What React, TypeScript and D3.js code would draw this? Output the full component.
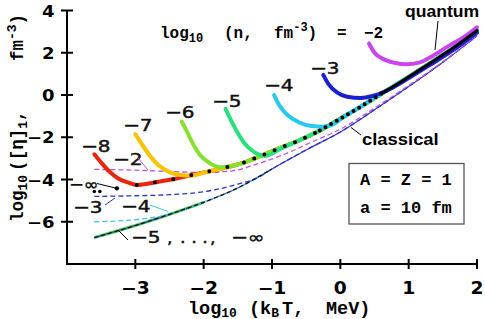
import React from 'react';
import * as d3 from 'd3';

type P = [number, number];

const xTicks = [-3, -2, -1, 0, 1, 2];
const yTicks = [-6, -4, -2, 0, 2, 4];

// quantum non-degenerate limit (black dotted)
const envelope: P[] = [
  [-2.98, -4.26], [-2.7, -4.13], [-2.43, -3.98], [-2.19, -3.8], [-1.97, -3.65],
  [-1.76, -3.5], [-1.58, -3.35], [-1.41, -3.2], [-1.13, -2.84], [-0.88, -2.5],
  [-0.64, -2.2], [-0.3, -1.68], [0.0, -1.12], [0.3, -0.55], [0.6, 0.06],
  [0.9, 0.65], [1.3, 1.48], [1.65, 2.22], [2.0, 3.05],
];
const lowTDots: P[] = [[-3.27, -4.42], [-3.6, -4.57], [-3.52, -4.57]];

// quantum curves for log10 n = -8 .. -2
const qM8: P[] = [[-3.6, -2.81], [-3.5, -3.2], [-3.38, -3.62], [-3.25, -3.95], [-3.1, -4.15], [-2.98, -4.26]];
const qM7: P[] = [[-3.0, -1.85], [-2.88, -2.45], [-2.76, -2.98], [-2.65, -3.35], [-2.5, -3.65], [-2.3, -3.8], [-2.19, -3.82]];
const qM6: P[] = [[-2.32, -1.26], [-2.25, -1.7], [-2.15, -2.35], [-2.05, -2.85], [-1.92, -3.2], [-1.76, -3.42], [-1.58, -3.36]];
const qM5: P[] = [[-1.68, -0.65], [-1.6, -1.2], [-1.5, -1.8], [-1.4, -2.3], [-1.27, -2.68], [-1.1, -2.88], [-0.88, -2.55]];
const qM4: P[] = [[-0.97, 0.0], [-0.88, -0.55], [-0.76, -0.98], [-0.6, -1.3], [-0.42, -1.47], [-0.25, -1.5], [-0.1, -1.38], [0.0, -1.15]];
const qM3: P[] = [[-0.25, 0.95], [-0.17, 0.5], [-0.05, 0.12], [0.1, -0.08], [0.3, -0.14], [0.5, -0.02], [0.75, 0.32], [1.0, 0.8], [1.3, 1.4], [1.65, 2.12], [2.0, 2.95]];
const qM2: P[] = [[0.42, 2.44], [0.5, 2.0], [0.62, 1.72], [0.8, 1.52], [0.97, 1.45], [1.15, 1.53], [1.35, 1.85], [1.6, 2.35], [1.8, 2.72], [2.0, 3.2]];

// classical curves
const classical: P[] = [[-3.6, -6.75], [-3.0, -6.18], [-2.5, -5.65], [-2.0, -5.08], [-1.5, -4.4], [-1.0, -3.5], [-0.5, -2.6], [0, -1.75], [0.5, -0.7], [1.0, 0.4], [1.5, 1.55], [2.0, 2.8]];
const cM2: P[] = [[-3.6, -3.52], [-3.0, -3.56], [-2.5, -3.62], [-2.0, -3.67], [-1.6, -3.6], [-1.2, -3.25], [-0.8, -2.78], [-0.4, -2.2], [0.0, -1.62], [0.5, -0.62], [1.0, 0.45], [1.5, 1.57], [2.0, 2.82]];
const cM3: P[] = [[-3.6, -4.8], [-3.0, -4.77], [-2.5, -4.72], [-2.0, -4.58], [-1.5, -4.22], [-1.2, -3.9], [-1.0, -3.5], [-0.5, -2.6], [0, -1.75], [0.5, -0.7], [1.0, 0.4], [1.5, 1.55], [2.0, 2.8]];
const cM4: P[] = [[-3.6, -6.0], [-3.0, -5.9], [-2.6, -5.72], [-2.3, -5.45], [-2.0, -5.08], [-1.5, -4.4], [-1.0, -3.5]];
const cM5: P[] = [[-3.6, -6.75], [-3.0, -6.18], [-2.5, -5.65], [-2.0, -5.08]];
const cMinf: P[] = [[-3.6, -6.75], [-3.0, -6.18], [-2.5, -5.65], [-2.0, -5.08], [-1.5, -4.4], [-1.0, -3.5]];

const SANS = 'DejaVu Sans, sans-serif';
const ARIAL = 'Liberation Sans, Arial, sans-serif';
const MONO = 'Liberation Mono, Courier New, monospace';

const xs = d3.scaleLinear().domain([-4, 2]).range([67, 477]);
const ys = d3.scaleLinear().domain([-8, 4]).range([264, 10.5]);
const line = d3.line<P>().x(d => xs(d[0])).y(d => ys(d[1])).curve(d3.curveMonotoneX);

const tail = (head: P[]) => envelope.filter(p => p[0] > head[head.length - 1][0] + 0.05);

const quantum = [
  { data: [...qM8, ...tail(qM8)], color: '#e8260e' },
  { data: [...qM7, ...tail(qM7)], color: '#f7c400' },
  { data: [...qM6, ...tail(qM6)], color: '#86e030' },
  { data: [...qM5, ...tail(qM5)], color: '#28e07c' },
  { data: [...qM4, ...tail(qM4)], color: '#28c8f0' },
  { data: qM3, color: '#1a22d0' },
  { data: qM2, color: '#cc44ee' },
];

function Lbl(props: { x: number; y: number; fs?: number; sx?: number; anchor?: string; weight?: string; family?: string; fill?: string; thick?: number; children: React.ReactNode }) {
  const { x, y, fs = 16, sx = 1.25, anchor = 'start', weight = 'normal', family = SANS, fill = '#111', thick = 0 } = props;
  return (
    <text transform={`translate(${x},${y}) scale(${sx},1)`} fontSize={fs} fontFamily={family} fontWeight={weight} textAnchor={anchor} fill={fill} stroke={thick ? fill : 'none'} strokeWidth={thick}>
      {props.children}
    </text>
  );
}

export default function App() {
  const segA = envelope.slice(0, 8);
  const segB = envelope.slice(7, 12);
  const segC = envelope.slice(11, 15);
  const segD = envelope.slice(14);
  const T = 0.45;
  return (
    <svg width={485} height={319} style={{ position: 'absolute', left: 0, top: 0, background: '#fff' }}>
      <rect width={485} height={319} fill="#fff" />
      {/* classical dashed curves */}
      <path d={line(cM5)!} fill="none" stroke="#44d044" strokeWidth={3} />
      <path d={line(classical)!} fill="none" stroke="#3a3ad0" strokeWidth={1.2} />
      <path d={line(cM4)!} fill="none" stroke="#3cc8e0" strokeWidth={1.3} strokeDasharray="5 3" />
      <path d={line(cM3)!} fill="none" stroke="#2a36c0" strokeWidth={1.3} strokeDasharray="5 3" />
      <path d={line(cM2)!} fill="none" stroke="#c050e0" strokeWidth={1.3} strokeDasharray="5 3" />
      <path d={line(cMinf)!} fill="none" stroke="#111" strokeWidth={1.2} strokeDasharray="4 3" />

      {/* quantum curves */}
      {quantum.map((q, i) => (
        <path key={i} d={line(q.data)!} fill="none" stroke={q.color} strokeWidth={4} strokeLinejoin="round" strokeLinecap="round" />
      ))}
      {/* envelope */}
      <path d={line(segA)!} fill="none" stroke="#000" strokeWidth={4} strokeLinecap="round" strokeDasharray="0 18.5" />
      <path d={line(segB)!} fill="none" stroke="#000" strokeWidth={4} strokeLinecap="round" strokeDasharray="0 11" />
      <path d={line(segC)!} fill="none" stroke="#000" strokeWidth={4} strokeLinecap="round" strokeDasharray="0 6.5" />
      <path d={line(segD)!} fill="none" stroke="#000" strokeWidth={3} strokeLinecap="round" />
      {lowTDots.map((p, i) => (
        <circle key={i} cx={xs(p[0])} cy={ys(p[1])} r={i === 0 ? 2.2 : 1.8} fill="#000" />
      ))}

      {/* axes */}
      <line x1={67} y1={10} x2={67} y2={265} stroke="#000" strokeWidth={2} />
      <line x1={66} y1={264} x2={477} y2={264} stroke="#000" strokeWidth={2} />
      {yTicks.map(t => (
        <g key={t}>
          <line x1={61} x2={73} y1={ys(t)} y2={ys(t)} stroke="#000" strokeWidth={2} />
          <Lbl x={54.5} y={ys(t) + 6} fs={15} sx={1.2} anchor="end" weight="bold" fill="#000">{t < 0 ? `−${-t}` : `${t}`}</Lbl>
        </g>
      ))}
      {xTicks.map(t => (
        <g key={t}>
          <line x1={xs(t)} x2={xs(t)} y1={259} y2={269} stroke="#000" strokeWidth={2} />
          <Lbl x={xs(t)} y={293.5} fs={17} sx={1.1} anchor="middle" weight="bold" fill="#000">{t < 0 ? `−${-t}` : `${t}`}</Lbl>
        </g>
      ))}

      {/* axis titles */}
      <text x={188} y={313.5} fontFamily={MONO} fontWeight="bold" fontSize={18.5} fill="#000">
        log<tspan fontSize={13} dy={3}>10</tspan>
      </text>
      <text x={249} y={313.5} fontFamily={MONO} fontWeight="bold" fontSize={18.5} fill="#000">
        (k<tspan fontSize={13} dy={3}>B</tspan><tspan dy={-3} dx={3}>T,</tspan>
      </text>
      <text x={326} y={313.5} fontFamily={MONO} fontWeight="bold" fontSize={18.5} fill="#000">MeV)</text>

      <text transform="translate(23,222) rotate(-90)" fontFamily={MONO} fontWeight="bold" fontSize={17.5} fill="#000">
        log<tspan fontSize={13} dy={4}>10</tspan><tspan dy={-4} dx={4}>([η]</tspan><tspan fontSize={13} dy={4}>1</tspan><tspan dy={-4}>,</tspan>
      </text>
      <text transform="translate(23,61) rotate(-90)" fontFamily={MONO} fontWeight="bold" fontSize={17.5} fill="#000">
        fm<tspan fontSize={13} dy={-7}>-3</tspan><tspan dy={7}>)</tspan>
      </text>

      {/* top title */}
      <text x={160} y={38} fontFamily={MONO} fontWeight="bold" fontSize={16} fill="#000">
        log<tspan fontSize={12} dy={4}>10</tspan>
      </text>
      <text x={224} y={38} fontFamily={MONO} fontWeight="bold" fontSize={16} fill="#000">(n,</text>
      <text x={274} y={38} fontFamily={MONO} fontWeight="bold" fontSize={16} fill="#000">
        fm<tspan fontSize={12} dy={-7}>-3</tspan><tspan dy={7}>)</tspan>
      </text>
      <text x={337} y={38} fontFamily={MONO} fontWeight="bold" fontSize={16} fill="#000">=</text>
      <text x={364} y={38} fontFamily={MONO} fontWeight="bold" fontSize={16} fill="#000">−2</text>

      {/* curve labels */}
      <Lbl x={81} y={152} thick={T}>−8</Lbl>
      <Lbl x={123} y={131} thick={T}>−7</Lbl>
      <Lbl x={165} y={118} thick={T}>−6</Lbl>
      <Lbl x={212} y={107} thick={T}>−5</Lbl>
      <Lbl x={264} y={91} thick={T}>−4</Lbl>
      <Lbl x={310} y={74} thick={T}>−3</Lbl>

      <Lbl x={113} y={165} thick={T}>−2</Lbl>
      <line x1={138} y1={158} x2={148} y2={170} stroke="#c050e0" strokeWidth={1} />
      <Lbl x={69} y={190} sx={1.1} thick={T}>−∞</Lbl>
      <line x1={97} y1={183.5} x2={xs(lowTDots[0][0])} y2={ys(lowTDots[0][1])} stroke="#000" strokeWidth={1} />
      <Lbl x={73} y={213} thick={T}>−3</Lbl>
      <line x1={105} y1={205} x2={115} y2={198} stroke="#2a36c0" strokeWidth={1} />
      <Lbl x={121} y={212} thick={T}>−4</Lbl>
      <line x1={150} y1={205} x2={168} y2={211.5} stroke="#3cc8e0" strokeWidth={1} />
      <Lbl x={131} y={243} thick={T}>−5</Lbl>
      <Lbl x={167} y={243} sx={1.1} thick={T}>,</Lbl>
      <Lbl x={180} y={243} sx={1.1} thick={T}>. . .</Lbl>
      <Lbl x={210} y={243} sx={1.1} thick={T}>,</Lbl>
      <Lbl x={231} y={243} thick={T}>−∞</Lbl>
      <line x1={118} y1={230} x2={128} y2={240} stroke="#000" strokeWidth={1} />

      {/* annotations */}
      <Lbl x={405} y={17} fs={16} sx={1.1} weight="bold" family={ARIAL} fill="#000">quantum</Lbl>
      <line x1={438} y1={21} x2={435} y2={50} stroke="#000" strokeWidth={1} />
      <Lbl x={362} y={145} fs={16} sx={1.15} weight="bold" family={ARIAL} fill="#000">classical</Lbl>
      <line x1={361} y1={135} x2={351} y2={127.5} stroke="#000" strokeWidth={1} />

      <rect x={349} y={163.5} width={115} height={60.5} fill="#fff" stroke="#555" strokeWidth={1.3} />
      <text x={360} y={184.5} fontFamily={MONO} fontWeight="bold" fontSize={17} fill="#000">A = Z = 1</text>
      <text x={360} y={213} fontFamily={MONO} fontWeight="bold" fontSize={17} fill="#000">a = 10 fm</text>
    </svg>
  );
}
